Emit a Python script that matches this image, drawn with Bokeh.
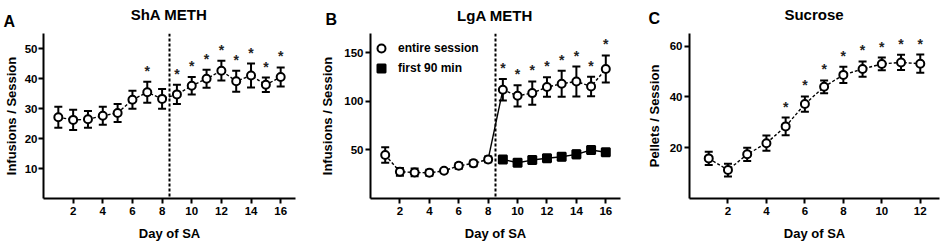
from bokeh.plotting import figure
from bokeh.models import (ColumnDataSource, Whisker, TeeHead, Span, Label,
                          FixedTicker, Legend, LegendItem, Range1d)
from bokeh.layouts import row, column
from bokeh.embed import file_html
from bokeh.resources import INLINE

FONT = "Liberation Sans"

# ---------------- data ----------------
days_a = list(range(1, 17))
sha_mean = [27.1, 26.2, 26.4, 27.6, 28.5, 32.9, 35.4, 33.2, 34.7, 37.6, 39.9, 42.6, 39.1, 41.0, 37.9, 40.5]
sha_sem = [3.5, 3.4, 2.8, 3.0, 3.0, 3.0, 3.5, 3.3, 3.2, 2.9, 3.0, 3.3, 3.5, 4.0, 2.4, 3.2]
sha_sig = [7, 9, 10, 11, 12, 13, 14, 15, 16]

days_b = list(range(1, 17))
lga_entire = [44.8, 27.5, 26.8, 26.5, 28.5, 33.7, 36.2, 40.3, 112.0, 105.8, 108.6, 114.8, 118.2, 120.6, 115.4, 133.4]
lga_entire_sem = [8.0, 4.0, 4.0, 3.0, 1.5, 3.0, 3.0, 3.0, 11.0, 11.0, 12.0, 10.0, 13.3, 15.4, 10.0, 14.0]
days_b90 = list(range(9, 17))
lga_90 = [40.3, 36.8, 39.6, 41.4, 43.0, 45.5, 50.0, 47.6]
lga_90_sem = [3.0, 3.0, 3.0, 3.0, 3.5, 4.0, 4.0, 3.0]
lga_sig = [9, 10, 11, 12, 13, 14, 15, 16]

days_c = list(range(1, 13))
suc_mean = [15.8, 11.2, 17.4, 21.8, 28.4, 37.2, 44.0, 48.7, 51.0, 53.0, 53.6, 53.1]
suc_sem = [2.6, 2.5, 2.6, 3.0, 3.5, 3.0, 2.5, 3.2, 3.0, 2.5, 3.0, 3.6]
suc_sig = [5, 6, 7, 8, 9, 10, 11, 12]

x_ticks_ab = [2, 4, 6, 8, 10, 12, 14, 16]
x_ticks_c = [2, 4, 6, 8, 10, 12]
y_ticks_a = [10, 20, 30, 40, 50]
y_ticks_b = [50, 100, 150]
y_ticks_c = [20, 40, 60]

panel_titles = ["ShA METH", "LgA METH", "Sucrose"]
panel_letters = ["A", "B", "C"]

W, H, HEAD = 945, 247, 33
BOTTOM = 49
PH = H - HEAD


def make_panel(width, left, right, xmax, ymax, xticks, yticks, ylabel, yl_standoff, ml_standoff):
    p = figure(width=width, height=PH, x_range=Range1d(0, xmax), y_range=Range1d(0, ymax),
               output_backend="svg", toolbar_location=None,
               min_border_left=left, min_border_right=right,
               min_border_top=0, min_border_bottom=BOTTOM)
    p.outline_line_color = None
    p.xgrid.visible = False
    p.ygrid.visible = False
    p.background_fill_color = "white"
    p.border_fill_color = "white"
    for ax in (p.xaxis[0], p.yaxis[0]):
        ax.axis_line_width = 2
        ax.axis_line_color = "black"
        ax.major_tick_line_width = 2
        ax.major_tick_line_color = "black"
        ax.major_tick_out = 5
        ax.major_tick_in = 0
        ax.minor_tick_line_color = None
        ax.major_label_text_font = FONT
        ax.major_label_text_font_style = "bold"
        ax.major_label_text_font_size = "11.5px"
        ax.major_label_text_color = "black"
        ax.axis_label_text_font = FONT
        ax.axis_label_text_font_style = "bold"
        ax.axis_label_text_font_size = "13px"
        ax.axis_label_text_color = "black"
    p.xaxis[0].ticker = FixedTicker(ticks=xticks)
    p.yaxis[0].ticker = FixedTicker(ticks=yticks)
    p.xaxis[0].axis_label = "Day of SA"
    p.yaxis[0].axis_label = ylabel
    p.xaxis[0].major_label_standoff = 3
    p.yaxis[0].major_label_standoff = ml_standoff
    p.xaxis[0].axis_label_standoff = 8
    p.yaxis[0].axis_label_standoff = yl_standoff
    return p


def add_series(p, x, y, e, marker, fill):
    src = ColumnDataSource(dict(x=x, y=y, lo=[a - b for a, b in zip(y, e)],
                                hi=[a + b for a, b in zip(y, e)]))
    w = Whisker(source=src, base="x", upper="hi", lower="lo",
                line_width=2, line_color="black",
                upper_head=TeeHead(size=8, line_width=2, line_color="black"),
                lower_head=TeeHead(size=8, line_width=2, line_color="black"))
    p.add_layout(w)
    r = p.scatter("x", "y", source=src, marker=marker, size=8,
                  line_width=2, line_color="black", fill_color=fill)
    return r


def add_line(p, x, y, dash):
    p.line(x, y, line_color="black", line_width=1.4,
           line_dash=("3 2" if dash else "solid"))


def add_stars(p, days, x, y, e):
    sx, sy = [], []
    for d in days:
        i = x.index(d)
        sx.append(d)
        sy.append(y[i] + e[i])
    p.text(sx, sy, text=["*"] * len(sx), text_align="center", text_baseline="middle",
           text_font_size="14px", text_font_style="bold", text_color="#222222",
           y_offset=-11)


def add_divider(p):
    p.add_layout(Span(location=8.5, dimension="height", line_color="black",
                      line_width=2, line_dash="3 2"))


# ---------------- header (panel letters and titles) ----------------
head = figure(width=W, height=HEAD, x_range=Range1d(0, W), y_range=Range1d(0, HEAD),
              output_backend="svg", toolbar_location=None,
              x_axis_type=None, y_axis_type=None, min_border=0)
head.outline_line_color = None
head.xgrid.visible = False
head.ygrid.visible = False
title_cx = [168.5, 494.5, 813.5]
title_base = [14, 15, 14]
letter_x = [3, 325, 648]
letter_base = [20.5, 18.5, 17.5]
for t, cx, tb, l, lx, lb in zip(panel_titles, title_cx, title_base,
                                panel_letters, letter_x, letter_base):
    head.add_layout(Label(x=cx, y=HEAD - tb, x_units="screen", y_units="screen",
                          text=t, text_align="center", text_baseline="alphabetic",
                          text_font=FONT, text_font_style="bold",
                          text_font_size="15px", text_color="black"))
    head.add_layout(Label(x=lx, y=HEAD - lb, x_units="screen", y_units="screen",
                          text=l, text_align="left", text_baseline="alphabetic",
                          text_font=FONT, text_font_style="bold",
                          text_font_size="16px", text_color="black"))

# ---------------- panel A ----------------
pa = make_panel(315, 43, 20, 17, 55, x_ticks_ab, y_ticks_a, "Infusions / Session", 3, 1)
add_line(pa, days_a, sha_mean, True)
add_series(pa, days_a, sha_mean, sha_sem, "circle", "white")
add_divider(pa)
add_stars(pa, sha_sig, days_a, sha_mean, sha_sem)

# ---------------- panel B ----------------
pb = make_panel(315, 55, 10, 17, 170, x_ticks_ab, y_ticks_b, "Infusions / Session", 6, 2)
add_line(pb, days_b[:8], lga_entire[:8], True)
add_line(pb, days_b[7:9], lga_entire[7:9], False)
add_line(pb, days_b[8:], lga_entire[8:], True)
add_line(pb, days_b90, lga_90, False)
add_divider(pb)
r_c = add_series(pb, days_b, lga_entire, lga_entire_sem, "circle", "white")
r_s = add_series(pb, days_b90, lga_90, lga_90_sem, "square", "black")
add_stars(pb, lga_sig, days_b, lga_entire, lga_entire_sem)
leg = Legend(items=[LegendItem(label="entire session", renderers=[r_c]),
                    LegendItem(label="first 90 min", renderers=[r_s])],
             location=(1, 120), padding=0, margin=0, spacing=-2,
             glyph_width=20, glyph_height=20, label_height=20, label_standoff=7,
             label_text_font=FONT, label_text_font_style="bold",
             label_text_font_size="12px", label_text_color="black",
             border_line_alpha=0, background_fill_alpha=0)
pb.add_layout(leg)

# ---------------- panel C ----------------
pc = make_panel(315, 59, 6, 13, 65, x_ticks_c, y_ticks_c, "Pellets / Session", 5, 2)
add_line(pc, days_c, suc_mean, True)
add_series(pc, days_c, suc_mean, suc_sem, "circle", "white")
add_stars(pc, suc_sig, days_c, suc_mean, suc_sem)

layout = column(head, row(pa, pb, pc))
open("out.html", "w").write(file_html(layout, INLINE))
